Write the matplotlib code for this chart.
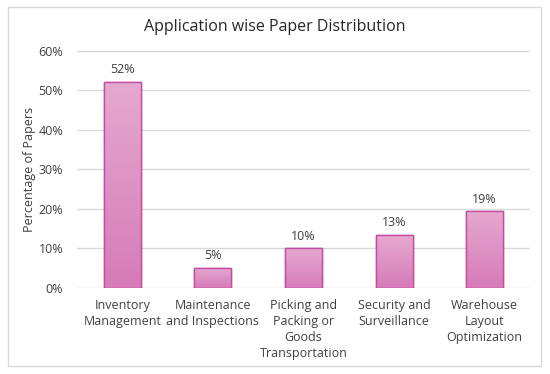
import matplotlib
matplotlib.use("Agg")
import matplotlib.pyplot as plt
import numpy as np
from matplotlib.patches import Rectangle
from matplotlib.ticker import PercentFormatter
from matplotlib.colors import LinearSegmentedColormap

categories = ["Inventory\nManagement", "Maintenance\nand Inspections",
              "Picking and\nPacking or\nGoods\nTransportation",
              "Security and\nSurveillance", "Warehouse\nLayout\nOptimization"]
values = [52.2, 5.1, 10.0, 13.4, 19.4]
labels = ["52%", "5%", "10%", "13%", "19%"]
yticks = [0, 10, 20, 30, 40, 50, 60]

plt.rcParams['font.family'] = ['Open Sans', 'DejaVu Sans']

fig = plt.figure(figsize=(5.5, 3.74), dpi=100)
fig.patch.set_facecolor('white')
fig.patches.append(Rectangle((8/550, 1-366/374), 533/550, 359/374,
                             transform=fig.transFigure, fill=False,
                             edgecolor='#D9D9D9', linewidth=1.0))
ax = fig.add_axes([77/550, 1-287.7/374, 453/550, 237/374])

x = np.arange(len(categories))
bars = ax.bar(x, values, width=0.41, color='#DD94C6', edgecolor='#C24DA2',
              linewidth=1.0, zorder=3)
grad = np.linspace(0, 1, 256).reshape(-1, 1)
cmap = LinearSegmentedColormap.from_list('g', ['#D67BB8', '#E5A9D0'])
for b in bars:
    bx, by = b.get_x(), b.get_y()
    w, h = b.get_width(), b.get_height()
    im = ax.imshow(grad, extent=[bx, bx + w, by, by + h], origin='lower',
                   cmap=cmap, aspect='auto', zorder=3.5)
    im.set_clip_path(b)
    ax.add_patch(Rectangle((bx, by), w, h, fill=False, edgecolor='#C24DA2',
                           linewidth=1.0, zorder=4))

for xi, v, lab in zip(x, values, labels):
    ax.annotate(lab, (xi, v), xytext=(0, 4), textcoords='offset points',
                ha='center', va='bottom', fontsize=9, color='#404040')

ax.set_xlim(-0.5, len(categories) - 0.5)
ax.set_ylim(0, 60)
ax.set_yticks(yticks)
ax.yaxis.set_major_formatter(PercentFormatter(decimals=0))
ax.set_xticks(x)
ax.set_xticklabels(categories, fontsize=9, color='#404040', linespacing=1.3)
ax.tick_params(axis='y', labelsize=9, labelcolor='#404040', length=0, pad=10)
ax.tick_params(axis='x', length=0, pad=8)
ax.grid(axis='y', color='#D9D9D9', linewidth=1.0, zorder=0)
ax.set_axisbelow(True)
for s in ax.spines.values():
    s.set_visible(False)
ax.set_ylabel("Percentage of Papers", fontsize=9, color='#404040', labelpad=2)

fig.text(0.5 * (8 + 541) / 550, 1 - 27/374, "Application wise Paper Distribution",
         ha='center', va='center', fontsize=11.5, color='#262626')

fig.savefig("out.png", dpi=100, facecolor='white')
